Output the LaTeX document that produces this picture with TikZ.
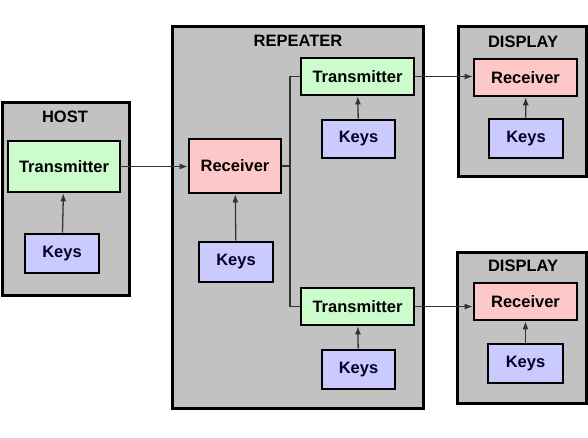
\documentclass[tikz,border=0pt]{standalone}
\usepackage{fontspec}
\setmainfont{Liberation Sans}
\usetikzlibrary{arrows.meta}
\definecolor{boxgray}{HTML}{C2C2C2}
\definecolor{txgreen}{HTML}{CCFCCC}
\definecolor{rxpink}{HTML}{FFC8C8}
\definecolor{keypurple}{HTML}{CACAFF}
\tikzset{
  unit/.style={draw=black, line width=3pt, fill=boxgray},
  part/.style={draw=black, line width=2.6pt, inner sep=0pt,
    font=\fontsize{16.5}{18}\selectfont\bfseries},
  txbox/.style={part, fill=txgreen},
  rxbox/.style={part, fill=rxpink},
  keysbox/.style={part, fill=keypurple, text=black!85!blue},
  title/.style={font=\fontsize{16.5}{18}\selectfont\bfseries},
  link/.style={draw=black!80, line width=1.3pt},
  sig/.style={link, -{Latex[length=8pt,width=6pt]}}
}
\begin{document}
\begin{tikzpicture}[x=1pt,y=-1pt]
\useasboundingbox (0,0) rectangle (588,438);

% outer units
\node[unit, minimum width=127pt, minimum height=192pt] (host) at (65.5,199) {};
\node[unit, minimum width=251pt, minimum height=381pt] (rep) at (297.5,217.5) {};
\node[unit, minimum width=128pt, minimum height=150pt] (disp1) at (522,102) {};
\node[unit, minimum width=129pt, minimum height=151pt] (disp2) at (521.5,327.5) {};

\node[title] (hosttitle) at (65,117) {HOST};
\node[title] (reptitle) at (298,41) {REPEATER};
\node[title] (disp1title) at (523,42) {DISPLAY};
\node[title] (disp2title) at (523,266) {DISPLAY};

% host
\node[txbox, minimum width=112pt, minimum height=51pt] (htx) at (64,166.5) {Transmitter};
\node[keysbox, minimum width=74pt, minimum height=39pt] (hkeys) at (62,253.5) {Keys};

% repeater
\node[rxbox, minimum width=92pt, minimum height=54pt] (rrx) at (235,166) {Receiver};
\node[keysbox, minimum width=74pt, minimum height=40pt] (rkeys) at (236,262) {Keys};
\node[txbox, minimum width=113pt, minimum height=37pt] (ttx) at (357.5,76.5) {Transmitter};
\node[keysbox, minimum width=73pt, minimum height=38pt] (tkeys) at (358.5,139) {Keys};
\node[txbox, minimum width=113pt, minimum height=37pt] (btx) at (357.5,306.5) {Transmitter};
\node[keysbox, minimum width=73pt, minimum height=39pt] (bkeys) at (358.5,369.5) {Keys};
\coordinate (split) at (290,166);

% displays
\node[rxbox, minimum width=103pt, minimum height=37pt] (drx1) at (525.5,77.5) {Receiver};
\node[keysbox, minimum width=74pt, minimum height=39pt] (dkeys1) at (526,138.5) {Keys};
\node[rxbox, minimum width=103pt, minimum height=37pt] (drx2) at (525.5,301.5) {Receiver};
\node[keysbox, minimum width=75pt, minimum height=39pt] (dkeys2) at (525.5,363.5) {Keys};

% connections
\draw[sig] (htx.east) -- (htx.east -| rrx.west);
\draw[link] (rrx.east) -- (split);
\draw[link] (ttx.west) -| (split) |- (btx.west);
\draw[sig] (ttx.east) -- (ttx.east -| drx1.west);
\draw[sig] (btx.east) -- (btx.east -| drx2.west);

\draw[sig] (hkeys) -- (htx);
\draw[sig] (rkeys) -- (rrx);
\draw[sig] (tkeys) -- (ttx);
\draw[sig] (bkeys) -- (btx);
\draw[sig] (dkeys1) -- (drx1);
\draw[sig] (dkeys2) -- (drx2);
\end{tikzpicture}
\end{document}
